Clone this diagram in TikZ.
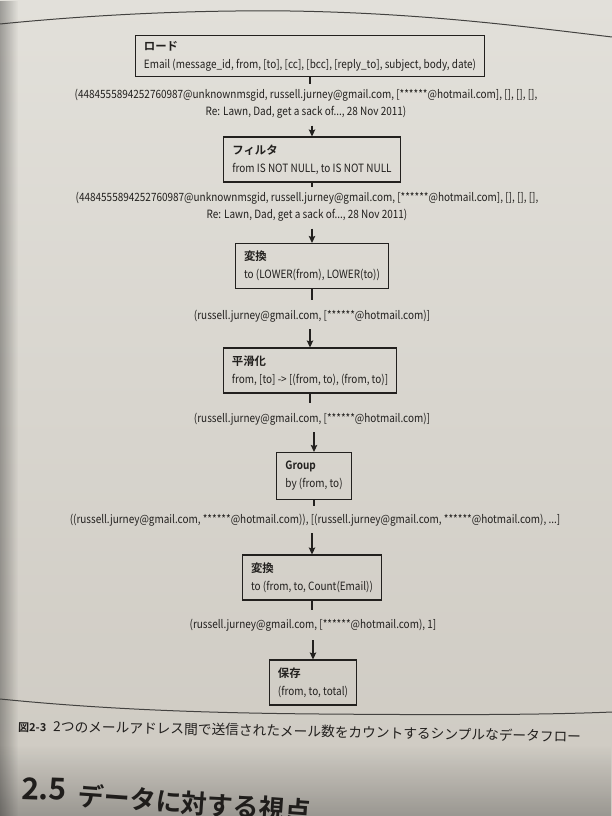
\documentclass[tikz,border=0pt]{standalone}
\usepackage{fontspec}
\setmainfont{Noto Sans CJK JP}[BoldFont={Noto Sans CJK JP Bold}, FakeStretch=0.875]
\newfontfamily\jpfont{Noto Sans CJK JP}[BoldFont={Noto Sans CJK JP Bold}]
\usetikzlibrary{arrows.meta,fadings}
\definecolor{ink}{RGB}{34,32,30}
\definecolor{bgtop}{RGB}{226,224,218}
\definecolor{bgbot}{RGB}{206,202,194}
\tikzfading[name=fadeR, left color=transparent!0, right color=transparent!100]
\tikzfading[name=fadeU, bottom color=transparent!0, top color=transparent!100]
\begin{document}
\begin{tikzpicture}[x=1pt,y=-1pt,
  box/.style={draw=ink, line width=1.1pt, rectangle, inner xsep=8.5pt, inner ysep=0pt,
    minimum height=#1, align=left, text=ink, font=\fontsize{11.4}{18}\selectfont},
  box/.default=45pt,
  ttl/.style={},
  lab/.style={inner sep=0pt, align=center, text=ink, font=\fontsize{11.4}{16.5}\selectfont},
  stub/.style={draw=ink, line width=1.1pt, shorten >=#1},
  stub/.default=8pt,
  arr/.style={draw=ink, line width=1.1pt, -{Stealth[length=7pt,width=6.5pt,inset=1.2pt]}, shorten <=#1},
  arr/.default=7pt]
\useasboundingbox (0,0) rectangle (612,816);
% page background
\shade[top color=bgtop, bottom color=bgbot] (0,0) rectangle (612,816);
\fill[black, opacity=0.3, path fading=fadeR] (0,0) rectangle (18,816);
\fill[black, opacity=0.25, path fading=fadeU] (0,745) rectangle (612,816);
% figure frame rules
\draw[ink!85, line width=1pt] (0,24) .. controls (100,14) and (200,10) .. (290,11) .. controls (420,13) and (520,26) .. (612,37);
\draw[ink!85, line width=1pt] (0,699) .. controls (100,709) and (200,713) .. (320,714) .. controls (450,715) and (540,715) .. (612,712);

% boxes
\node[box=41pt] (b1) at (310,56) {{\jpfont\bfseries ロード}\\Email (message\_id, from, [to], [cc], [bcc], [reply\_to], subject, body, date)};
\node[box] (b2) at (312,159.5) {{\jpfont\bfseries フィルタ}\\from IS NOT NULL, to IS NOT NULL};
\node[box] (b3) at (312,266) {{\jpfont\bfseries 変換}\\to (LOWER(from), LOWER(to))};
\node[box] (b4) at (310,370.5) {{\jpfont\bfseries 平滑化}\\from, [to] -> [(from, to), (from, to)]};
\node[box=47pt] (b5) at (314,476) {\textbf{Group}\\by (from, to)};
\node[box] (b6) at (312,577.5) {{\jpfont\bfseries 変換}\\to (from, to, Count(Email))};
\node[box] (b7) at (313,682.5) {{\jpfont\bfseries 保存}\\(from, to, total)};

% data labels
\node[lab] (l1) at (306,104) {(4484555894252760987@unknownmsgid, russell.jurney@gmail.com, [******@hotmail.com], [], [], [],\\Re: Lawn, Dad, get a sack of..., 28 Nov 2011)};
\node[lab] (l2) at (307,207) {(4484555894252760987@unknownmsgid, russell.jurney@gmail.com, [******@hotmail.com], [], [], [],\\Re: Lawn, Dad, get a sack of..., 28 Nov 2011)};
\node[lab] (l3) at (312,316) {(russell.jurney@gmail.com, [******@hotmail.com)]};
\node[lab] (l4) at (312,419) {(russell.jurney@gmail.com, [******@hotmail.com)]};
\node[lab] (l5) at (315,520) {((russell.jurney@gmail.com, ******@hotmail.com)), [(russell.jurney@gmail.com, ******@hotmail.com), ...]};
\node[lab] (l6) at (313,625) {(russell.jurney@gmail.com, [******@hotmail.com), 1]};

% connectors
\draw[stub=5pt] (b1.south) -- (b1.south |- l1.north);
\draw[arr] (l1.south -| b2.north) -- (b2.north);
\draw[stub=5pt] (b2.south) -- (b2.south |- l2.north);
\draw[arr] (l2.south -| b3.north) -- (b3.north);
\draw[stub=10pt] (b3.south) -- (b3.south |- l3.north);
\draw[arr] (l3.south -| b4.north) -- (b4.north);
\draw[stub=10pt] (b4.south) -- (b4.south |- l4.north);
\draw[arr] (l4.south -| b5.north) -- (b5.north);
\draw[stub=8pt] (b5.south) -- (b5.south |- l5.north);
\draw[arr] (l5.south -| b6.north) -- (b6.north);
\draw[stub=9pt] (b6.south) -- (b6.south |- l6.north);
\draw[arr=9pt] (l6.south -| b7.north) -- (b7.north);

% caption and heading
\node[anchor=base west, inner sep=0pt, text=ink, rotate=-1.1] (cap) at (18,731)
  {\jpfont{\fontsize{11}{11}\selectfont\bfseries 図2-3}\hspace{7pt}{\fontsize{13.7}{14}\selectfont 2つのメールアドレス間で送信されたメール数をカウントするシンプルなデータフロー}};
\node[anchor=base west, inner sep=0pt, text=ink!90!black, rotate=-2] (sec) at (21,799)
  {\jpfont\fontsize{30}{30}\selectfont\bfseries 2.5};
\node[anchor=base west, inner sep=0pt, text=ink!90!black, rotate=-4] (head) at (77,805)
  {\jpfont\fontsize{26}{26}\selectfont\bfseries データに対する視点};
\end{tikzpicture}
\end{document}
